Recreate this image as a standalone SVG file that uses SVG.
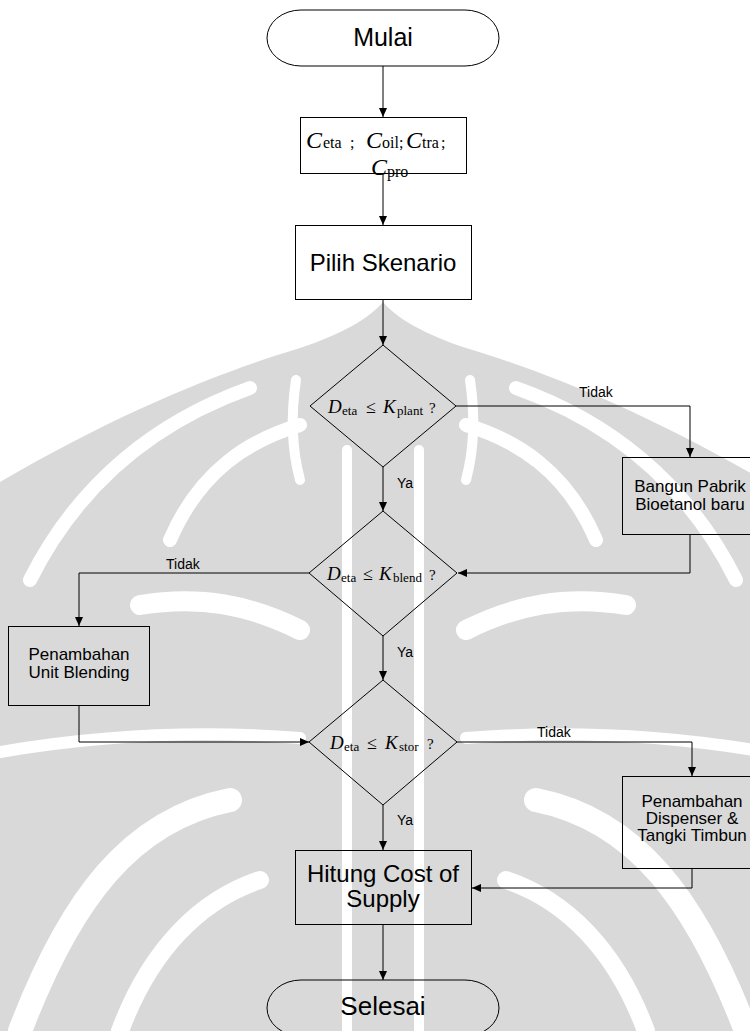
<svg xmlns="http://www.w3.org/2000/svg" width="750" height="1031" viewBox="0 0 750 1031">
<style>
.shape{fill:none;stroke:#000;stroke-width:1}
.lbl{font-family:"Liberation Sans",Arial,sans-serif;fill:#000;text-anchor:middle}
.edge{font-family:"Liberation Sans",Arial,sans-serif;fill:#000;font-size:14px}
.math{font-family:"Liberation Serif","Times New Roman",serif;fill:#000}
.it{font-style:italic}
.conn{fill:none;stroke:#000;stroke-width:1}
.wm{fill:#d9d9d9}
.wg{fill:none;stroke:#fff;stroke-linecap:round}
</style>
<defs>
<marker id="ah" markerWidth="10" markerHeight="8" refX="9" refY="4" orient="auto" markerUnits="userSpaceOnUse"><path d="M0,0 L9,4 L0,8 Z" fill="#000"/></marker>
</defs>
<rect width="750" height="1031" fill="#fff"/>
<g id="watermark">
<g id="wm-left">
<path class="wm" d="M383 302 C370 318 340 335 300 348 C220 372 120 412 0 482 L0 1031 L383 1031 Z"/>
<path class="wg" stroke-width="14" d="M30 580 C80 480 160 420 250 388"/>
<path class="wg" stroke-width="14" d="M170 540 C200 470 250 440 300 425"/>
<path class="wg" stroke-width="10" d="M296 380 C290 420 292 450 300 480"/>
<path class="wg" stroke-width="20" d="M140 605 C200 595 250 605 300 630"/>
<path class="wg" stroke-width="12" d="M0 752 C100 735 200 730 300 738"/>
<path class="wg" stroke-width="24" d="M20 1031 C70 900 130 820 230 800"/>
<path class="wg" stroke-width="18" d="M120 1031 C150 950 200 900 260 880"/>
<path class="wg" stroke-width="10" d="M347 450 V1031"/>
</g>
<use href="#wm-left" transform="translate(766,0) scale(-1,1)"/>
</g>
<g id="connectors">
<path class="conn" d="M383 66 V117" marker-end="url(#ah)"/>
<path class="conn" d="M383 173 V225" marker-end="url(#ah)"/>
<path class="conn" d="M383 299 V345" marker-end="url(#ah)"/>
<path class="conn" d="M456 406 H690 V457" marker-end="url(#ah)"/>
<path class="conn" d="M383 467 V511" marker-end="url(#ah)"/>
<path class="conn" d="M690 534 V573 H458" marker-end="url(#ah)"/>
<path class="conn" d="M309 573 H79 V626" marker-end="url(#ah)"/>
<path class="conn" d="M383 636 V680" marker-end="url(#ah)"/>
<path class="conn" d="M79 705 V742 H309" marker-end="url(#ah)"/>
<path class="conn" d="M457 742 H692 V776" marker-end="url(#ah)"/>
<path class="conn" d="M383 805 V850" marker-end="url(#ah)"/>
<path class="conn" d="M692 868 V888 H472" marker-end="url(#ah)"/>
<path class="conn" d="M383 924 V980" marker-end="url(#ah)"/>
<text class="edge" x="579" y="397">Tidak</text>
<text class="edge" x="397" y="488">Ya</text>
<text class="edge" x="166" y="569">Tidak</text>
<text class="edge" x="397" y="657">Ya</text>
<text class="edge" x="537" y="737">Tidak</text>
<text class="edge" x="397" y="825">Ya</text>
</g>
<g id="mulai">
<rect class="shape" x="267" y="10" width="232" height="56" rx="34" ry="28"/>
<text class="lbl" x="383" y="46" font-size="25">Mulai</text>
</g>
<g id="input">
<rect class="shape" x="300.5" y="117.5" width="166" height="56"/>
<text class="math" y="148"><tspan x="306" class="it" font-size="24">C</tspan><tspan x="323" font-size="16">eta</tspan><tspan x="350" font-size="16">;</tspan><tspan x="366" class="it" font-size="24">C</tspan><tspan x="382" font-size="16">oil</tspan><tspan x="399" font-size="16">;</tspan><tspan x="406" class="it" font-size="24">C</tspan><tspan x="422" font-size="16">tra</tspan><tspan x="441" font-size="16">;</tspan></text>
<text class="math" y="175"><tspan x="371" class="it" font-size="24">C</tspan><tspan x="387" y="177" font-size="16">pro</tspan></text>
</g>
<g id="pilih">
<rect class="shape" x="295.5" y="225.5" width="176" height="74"/>
<text class="lbl" x="383" y="271" font-size="24">Pilih Skenario</text>
</g>
<g id="cek-plant">
<polygon class="shape" points="383,345 456,406 383,467 310,406"/>
<text class="math" y="413"><tspan x="328" class="it" font-size="19">D</tspan><tspan x="342" y="415" font-size="13">eta</tspan><tspan x="366" y="413" font-size="18">≤</tspan><tspan x="383" class="it" font-size="19">K</tspan><tspan x="397" y="415" font-size="13">plant</tspan><tspan x="429" y="413" font-size="15">?</tspan></text>
</g>
<g id="bangun">
<rect class="shape" x="622.5" y="457.5" width="136" height="77"/>
<text class="lbl" font-size="17"><tspan x="690" y="492">Bangun Pabrik</tspan><tspan x="690" y="510">Bioetanol baru</tspan></text>
</g>
<g id="cek-blend">
<polygon class="shape" points="383,511 457,573 383,636 309,573"/>
<text class="math" y="580"><tspan x="327" class="it" font-size="19">D</tspan><tspan x="341" y="582" font-size="13">eta</tspan><tspan x="363" y="580" font-size="18">≤</tspan><tspan x="379" class="it" font-size="19">K</tspan><tspan x="393" y="582" font-size="13">blend</tspan><tspan x="429" y="580" font-size="15">?</tspan></text>
</g>
<g id="blending">
<rect class="shape" x="8.5" y="626.5" width="141" height="79"/>
<text class="lbl" font-size="17"><tspan x="79" y="660">Penambahan</tspan><tspan x="79" y="678">Unit Blending</tspan></text>
</g>
<g id="cek-stor">
<polygon class="shape" points="383,680 457,742 383,805 309,742"/>
<text class="math" y="749"><tspan x="330" class="it" font-size="19">D</tspan><tspan x="344" y="751" font-size="13">eta</tspan><tspan x="367" y="749" font-size="18">≤</tspan><tspan x="385" class="it" font-size="19">K</tspan><tspan x="399" y="751" font-size="13">stor</tspan><tspan x="427" y="749" font-size="15">?</tspan></text>
</g>
<g id="dispenser">
<rect class="shape" x="622.5" y="776.5" width="140" height="92"/>
<text class="lbl" font-size="17"><tspan x="692" y="807">Penambahan</tspan><tspan x="692" y="824">Dispenser &amp;</tspan><tspan x="692" y="841">Tangki Timbun</tspan></text>
</g>
<g id="hitung">
<rect class="shape" x="295.5" y="850.5" width="176" height="74"/>
<text class="lbl" font-size="24"><tspan x="383" y="882">Hitung Cost of</tspan><tspan x="383" y="907">Supply</tspan></text>
</g>
<g id="selesai">
<rect class="shape" x="267" y="980" width="232" height="56" rx="34" ry="28"/>
<text class="lbl" x="383" y="1015" font-size="26">Selesai</text>
</g>
</svg>
